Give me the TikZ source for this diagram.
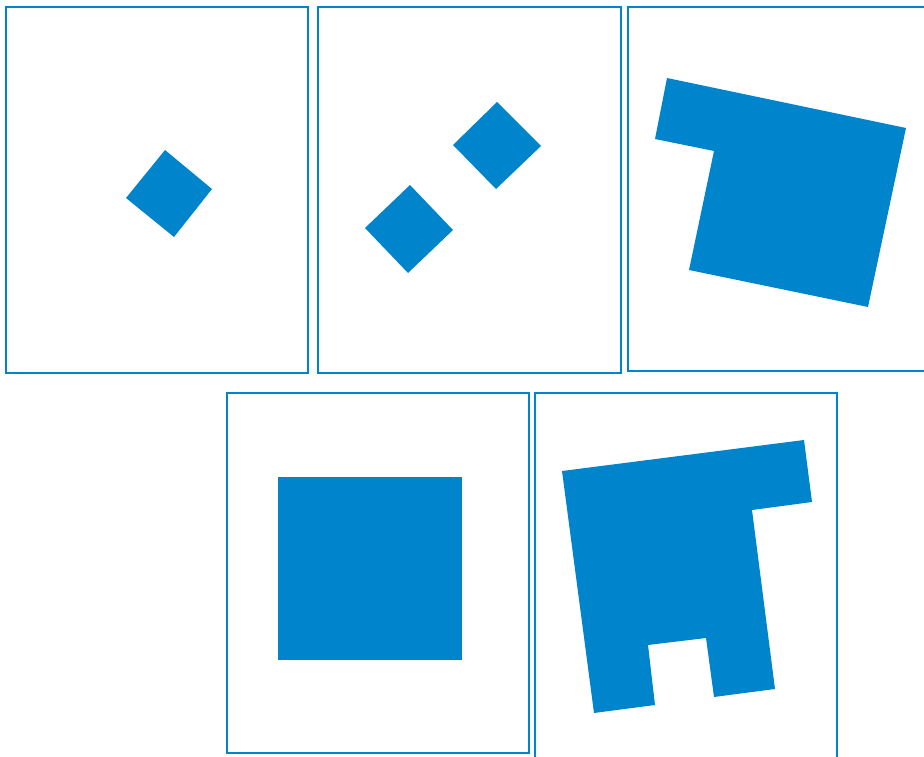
\documentclass[tikz,border=0pt]{standalone}
\usepackage{tikz}

\definecolor{tileblue}{RGB}{0,133,204}

\tikzset{
    frame/.style={draw=tileblue, line width=1.5pt},
    tile/.style={fill=tileblue}
}

\begin{document}
\begin{tikzpicture}[x=1pt, y=-1pt]

% ---- Page size (pixels of the reference) ----
            \clip (0,0) rectangle (924,757);
            \useasboundingbox (0,0) rectangle (924,757);

% ---- Frames (the last two run off the page) ----
            \foreach \xa/\ya/\xb/\yb in {6/7/308/373, 318/7/621/373, 628/7/931/371,
                                          227/393/529/753, 535/393/837/762} {
                \path[frame] (\xa,\ya) rectangle (\xb,\yb);
            }

% ---- Frame 1: one tilted square ----
            \path[tile] (126,198) -- (165,150) -- (212,189) -- (174,237) -- cycle;

% ---- Frame 2: two tilted squares ----
            \path[tile] (453,145) -- (497,102) -- (541,146) -- (496,189) -- cycle;
            \path[tile] (365,228) -- (410,185) -- (453,230) -- (408,273) -- cycle;

% ---- Frame 3: square with a tab ----
            \path[tile] (667,78) -- (906,128) -- (868,307) -- (689,270)
                        -- (714,151) -- (655,139) -- cycle;

% ---- Frame 4: upright square ----
            \path[tile] (278,477) rectangle (462,660);

% ---- Frame 5: square with tab and notch ----
            \path[tile] (562,471) -- (804,440) -- (812,502) -- (752,510)
                        -- (775,689) -- (714,697) -- (706,638) -- (648,645)
                        -- (655,705) -- (594,713) -- cycle;

\end{tikzpicture}
\end{document}
